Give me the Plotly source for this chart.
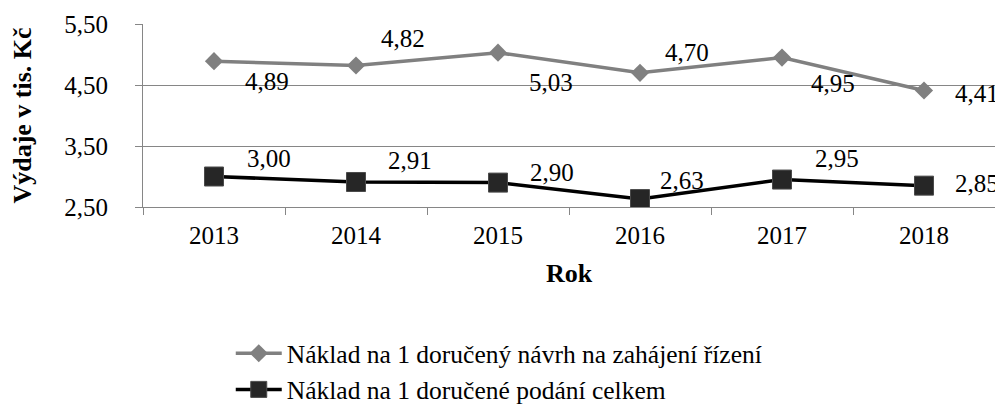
import plotly.graph_objects as go

years = ["2013", "2014", "2015", "2016", "2017", "2018"]
navrh = [4.89, 4.82, 5.03, 4.70, 4.95, 4.41]
podani = [3.00, 2.91, 2.90, 2.63, 2.95, 2.85]
name_navrh = "Náklad na 1 doručený návrh na zahájení řízení"
name_podani = "Náklad na 1 doručené podání celkem"
y_ticks = [2.5, 3.5, 4.5, 5.5]

# label offsets (pixels) for the manually positioned data labels
navrh_off = [(53, -20), (47, 27), (53, -30), (47, 20), (51, -26), (53, -3)]
podani_off = [(55, 18), (54, 21), (54, 10), (42, 19), (55, 21), (53, 2)]

FONT = "Liberation Serif, Times New Roman, Tinos, serif"

fig = go.Figure()
fig.add_trace(go.Scatter(
    x=years, y=navrh, name=name_navrh, mode="lines+markers",
    line=dict(color="#808080", width=3.5),
    marker=dict(symbol="diamond", size=14, color="#808080"),
))
fig.add_trace(go.Scatter(
    x=years, y=podani, name=name_podani, mode="lines+markers",
    line=dict(color="#000000", width=3.5),
    marker=dict(symbol="square", size=19, color="#262626",
                line=dict(color="#4a4a4a", width=1)),
))

annotations = []
for ser, offs in ((navrh, navrh_off), (podani, podani_off)):
    for i, (v, (dx, dy)) in enumerate(zip(ser, offs)):
        annotations.append(dict(
            x=i, y=v, xref="x", yref="y", text=f"{v:.2f}".replace(".", ","),
            showarrow=False, xshift=dx, yshift=dy,
            font=dict(family=FONT, size=25, color="#000000"),
        ))

fig.update_layout(
    width=995, height=397,
    margin=dict(l=135, r=8, t=16, b=198, autoexpand=False),
    paper_bgcolor="white", plot_bgcolor="white",
    separators=", ",
    font=dict(family=FONT, size=25, color="#000000"),
    showlegend=True,
    legend=dict(orientation="v", x=0.103, xanchor="left", y=-0.673, yanchor="top",
                font=dict(family=FONT, size=25.5, color="#000000"),
                itemwidth=46),
    annotations=annotations,
    xaxis=dict(
        type="category", range=[-0.5, 5.5],
        showgrid=False, showline=True, linecolor="#868686", linewidth=1,
        ticks="outside", tickson="boundaries", ticklen=7, tickcolor="#868686",
        tickfont=dict(family=FONT, size=25), ticklabelstandoff=6,
        title=dict(text="<b>Rok</b>", font=dict(family=FONT, size=26), standoff=15),
    ),
    yaxis=dict(
        range=[2.5, 5.5], tickvals=y_ticks, tickformat=".2f",
        showgrid=True, gridcolor="#868686", gridwidth=1,
        showline=True, linecolor="#868686", linewidth=1,
        ticks="outside", ticklen=7, tickcolor="#868686",
        tickfont=dict(family=FONT, size=25), ticklabelstandoff=22,
        zeroline=False,
        title=dict(text="<b>Výdaje v tis. Kč</b>", font=dict(family=FONT, size=26), standoff=26),
    ),
)

fig.write_html("out.html")
